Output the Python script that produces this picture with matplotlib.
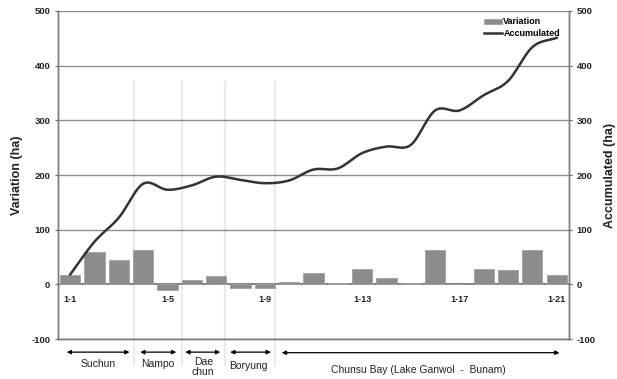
import numpy as np
import matplotlib
matplotlib.use("Agg")
import matplotlib.pyplot as plt

plt.rcParams['font.family'] = ['Liberation Sans', 'DejaVu Sans']
plt.rcParams['axes.unicode_minus'] = False

# Survey sections 1-1 ... 1-21
categories = [f"1-{i}" for i in range(1, 22)]
variation = [18, 60, 44, 62, -11, 8, 16, -6, -6, 5, 20, 2, 28, 12, 3, 63, 0, 28, 26, 62, 17]
accumulated = [18, 78, 122, 184, 173, 181, 197, 191, 185, 190, 210, 212, 240, 252, 255,
               318, 318, 346, 372, 434, 451]
shown_ticks = ["1-1", "1-5", "1-9", "1-13", "1-17", "1-21"]
y_ticks = [-100, 0, 100, 200, 300, 400, 500]

# Coastal regions: label, span of the arrow (in category units), label position
regions = ["Suchun", "Nampo", "Dae\nchun", "Boryung", "Chunsu Bay (Lake Ganwol  -  Bunam)"]
region_spans = [(-0.14, 2.44), (2.88, 4.36), (4.73, 6.17), (6.58, 8.25), (8.70, 20.11)]
region_label_x = [1.15, 3.62, 5.47, 7.32, 14.3]
region_label_y = [-146, -146, -151, -150, -156]
separators = [2.64, 4.59, 6.37, 8.40]


def catmull_rom(xs, ys, n=20):
    """Smooth curve through the given points (uniform Catmull-Rom)."""
    xs = np.asarray(xs, float)
    ys = np.asarray(ys, float)
    px = np.concatenate([[2 * xs[0] - xs[1]], xs, [2 * xs[-1] - xs[-2]]])
    py = np.concatenate([[2 * ys[0] - ys[1]], ys, [2 * ys[-1] - ys[-2]]])
    outx, outy = [], []
    t = np.linspace(0, 1, n, endpoint=False)
    for i in range(1, len(px) - 2):
        for p, out in ((px, outx), (py, outy)):
            p0, p1, p2, p3 = p[i - 1], p[i], p[i + 1], p[i + 2]
            out.extend(0.5 * ((2 * p1) + (-p0 + p2) * t
                              + (2 * p0 - 5 * p1 + 4 * p2 - p3) * t ** 2
                              + (-p0 + 3 * p1 - 3 * p2 + p3) * t ** 3))
    outx.append(xs[-1])
    outy.append(ys[-1])
    return np.array(outx), np.array(outy)


fig = plt.figure(figsize=(6.17, 3.79), dpi=100)
ax = fig.add_axes([0.094, 0.1055, 0.828, 0.8655])
x = np.arange(len(categories))

ax.set_xlim(-0.5, len(categories) - 0.5)
ax.set_ylim(-100, 500)

# horizontal grid
for yv in y_ticks:
    ax.axhline(yv, color='#777777' if yv == 0 else '#8c8c8c',
               lw=1.3 if yv == 0 else 1.0, zorder=1)

bars = ax.bar(x, variation, width=0.83, color='#8c8c8c', edgecolor='#a0a0a0',
              linewidth=0.6, zorder=2, label='Variation')

ax2 = ax.twinx()
ax2.set_ylim(-100, 500)
sx, sy = catmull_rom(x, accumulated)
line, = ax2.plot(sx, sy, color='#333333', lw=1.8, zorder=3, label='Accumulated')

# category tick labels sitting just under the zero line
ax.set_xticks([])
for lab in shown_ticks:
    i = categories.index(lab)
    ax.text(i, -28, lab, ha='center', va='center', fontsize=6.5,
            fontweight='bold', color='#222222')

# region separators extending below the plot area
for sxp in separators:
    ax.plot([sxp, sxp], [370, -148], color='#ebebeb', lw=1.6, zorder=0,
            clip_on=False)

# region arrows and labels
for name, (a, b), lx, ly in zip(regions, region_spans, region_label_x, region_label_y):
    yy = -125 if name.startswith("Chunsu") else -124
    ax.annotate('', xy=(b, yy), xytext=(a, yy), xycoords='data',
                arrowprops=dict(arrowstyle='<|-|>', color='black', lw=0.9,
                                mutation_scale=6, shrinkA=0, shrinkB=0),
                annotation_clip=False)
    ax.text(lx, ly, name, ha='center', va='center', fontsize=7.5,
            color='#222222', linespacing=0.95)

for a in (ax, ax2):
    a.set_yticks(y_ticks)
    a.tick_params(axis='y', labelsize=6.8, length=2, width=0.8, color='#666666',
                  labelcolor='#222222')
    for lab in a.get_yticklabels():
        lab.set_fontweight('bold')
    a.spines['top'].set_visible(False)
    for s in ('left', 'right', 'bottom'):
        a.spines[s].set_color('#7a7a7a')
        a.spines[s].set_linewidth(1.0)

ax.set_ylabel('Variation (ha)', fontsize=9, fontweight='bold', color='#222222',
              labelpad=6)
ax2.set_ylabel('Accumulated (ha)', fontsize=9, fontweight='bold', color='#222222',
               labelpad=6)

leg = ax2.legend([bars, line], ['Variation', 'Accumulated'], loc='upper right',
                 bbox_to_anchor=(0.995, 1.0), frameon=False, fontsize=6.5,
                 handlelength=1.9, handleheight=0.5, handletextpad=0.2,
                 labelspacing=0.25, borderpad=0.2)
for t in leg.get_texts():
    t.set_fontweight('bold')

fig.savefig('out.png', dpi=100)
